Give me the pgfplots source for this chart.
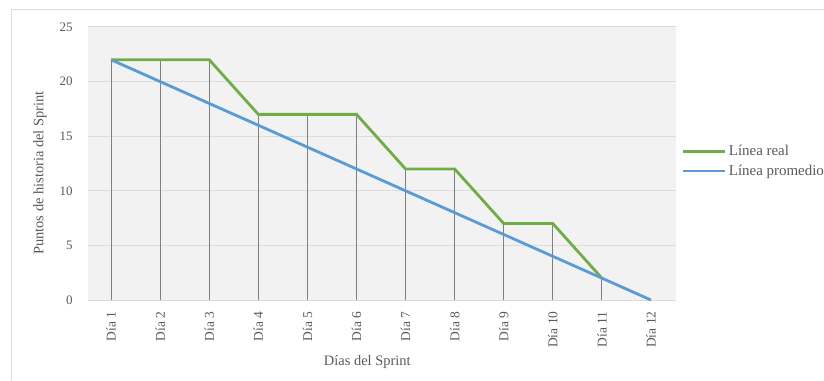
\documentclass[border=0pt]{standalone}
\usepackage{pgfplots}
\pgfplotsset{compat=1.18}
\usepackage{fontspec}
\setmainfont{Liberation Serif}
\definecolor{real}{HTML}{70AD47}
\definecolor{prom}{HTML}{5B9BD5}
\definecolor{txt}{HTML}{595959}
\definecolor{bg}{HTML}{F2F2F2}
\definecolor{gridc}{HTML}{DCDCDC}
\definecolor{drop}{HTML}{808080}
\begin{document}
\begin{tikzpicture}
\useasboundingbox (0bp,0bp) rectangle (824bp,381bp);
\clip (0bp,0bp) rectangle (824bp,381bp);
% outer chart frame
\draw[draw=gridc, line width=1bp] (11bp,371bp) rectangle (900bp,-20bp);
\begin{axis}[
  at={(88bp,81bp)}, anchor=south west,
  scale only axis, width=588bp, height=273bp,
  xmin=0.53, xmax=12.51, ymin=0, ymax=25,
  xtick={1,...,12},
  xticklabels={Día 1,Día 2,Día 3,Día 4,Día 5,Día 6,Día 7,Día 8,Día 9,Día 10,Día 11,Día 12},
  x tick label style={rotate=90, anchor=east, font=\fontsize{13.5}{15}\selectfont, text=txt},
  ytick={0,5,...,25},
  y tick label style={font=\fontsize{13}{15}\selectfont, text=txt},
  /pgf/number format/assume math mode=true,
  ymajorgrids, grid style={gridc, line width=1bp},
  axis background/.style={fill=bg},
  axis line style={draw=none},
  tick style={draw=none},
  xticklabel shift=8bp, yticklabel shift=12bp,
  xlabel={Días del Sprint}, ylabel={Puntos de historia del Sprint},
  label style={font=\fontsize{14.5}{16}\selectfont, text=txt},
  xlabel style={at={(axis description cs:0.475,-0.227)}, anchor=center},
  ylabel style={at={(axis description cs:-0.082,0.465)}, anchor=center},
  legend style={at={(axis description cs:1.01,0.575)}, anchor=north west,
    draw=none, fill=none, font=\fontsize{15}{16}\selectfont, text=txt,
    row sep=4bp, inner sep=0pt},
  legend cell align=left,
  legend image code/.code={\draw[#1] (0bp,0bp) -- (42bp,0bp);},
  clip=false,
]
% drop lines from the real series
\addplot[ycomb, draw=drop, line width=1.1bp, forget plot] coordinates {
  (1,22) (2,22) (3,22) (4,17) (5,17) (6,17) (7,12) (8,12) (9,7) (10,7) (11,2)};
\addplot[real, line width=2.8bp] coordinates {
  (1,22) (2,22) (3,22) (4,17) (5,17) (6,17) (7,12) (8,12) (9,7) (10,7) (11,2)};
\addlegendentry{Línea real}
\addplot[prom, line width=2.8bp] coordinates {
  (1,22) (2,20) (3,18) (4,16) (5,14) (6,12) (7,10) (8,8) (9,6) (10,4) (11,2) (12,0)};
\addlegendentry{Línea promedio}
\end{axis}
\end{tikzpicture}
\end{document}
